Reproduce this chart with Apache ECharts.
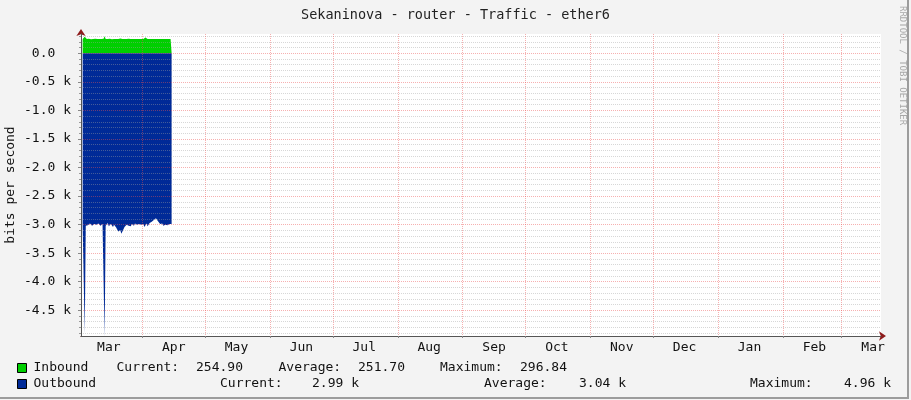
<!DOCTYPE html>
<html>
<head>
<meta charset="utf-8">
<script src="https://cdn.jsdelivr.net/npm/echarts@6/dist/echarts.min.js"></script>
<style>
html,body{margin:0;padding:0;background:#F3F3F3;}
#c{width:911px;height:400px;}
</style>
</head>
<body>
<div id="c"></div>
<script>
// ---- data ----
const chartTitle = 'Sekaninova - router - Traffic - ether6';
const yAxisName = 'bits per second';
const watermark = 'RRDTOOL / TOBI OETIKER';
// x in days since 1 Mar (first year)
const xMinDay = 1.72;
const xMaxDay = 383.8;
const monthStartDays = [31, 61, 92, 122, 153, 184, 214, 245, 275, 306, 337, 365];
const monthLabelDays = [15, 46, 76, 107, 137, 168, 199, 229, 260, 290, 321, 352, 380];
const monthLabels = ['Mar', 'Apr', 'May', 'Jun', 'Jul', 'Aug', 'Sep', 'Oct', 'Nov', 'Dec', 'Jan', 'Feb', 'Mar'];
const yMin = -4950;
const yMax = 338;
const yMajorTicks = [-4500, -4000, -3500, -3000, -2500, -2000, -1500, -1000, -500, 0];
const yMinorTicks = [-4900, -4800, -4700, -4600, -4400, -4300, -4200, -4100, -3900, -3800, -3700, -3600,
  -3400, -3300, -3200, -3100, -2900, -2800, -2700, -2600, -2400, -2300, -2200, -2100, -1900, -1800, -1700, -1600,
  -1400, -1300, -1200, -1100, -900, -800, -700, -600, -400, -300, -200, -100, 100, 200, 300];
// samples every half day starting at day 2.5
const sampleStartDay = 2.5;
const sampleStepDay = 0.5;
const inbound = [
  250, 252, 290, 255, 251, 249, 253, 250, 248, 252,
  251, 250, 253, 249, 250, 252, 251, 248, 250, 253,
  255, 297, 252, 250, 249, 251, 253, 250, 248, 251,
  250, 252, 249, 251, 250, 253, 260, 251, 249, 250,
  252, 250, 251, 249, 253, 250, 252, 251, 249, 250,
  251, 253, 250, 249, 252, 250, 251, 250, 252, 255,
  275, 252, 250, 249, 251, 250, 252, 260, 250, 251,
  249, 250, 252, 251, 250, 253, 249, 251, 250, 252,
  251, 270, 250, 252, 251, 255
];
const outbound = [
  -3000, -2980, -4900,
  -3020, -2990, -3010, -3030, -2980, -3000, -3020, -3040, -2990, -3010, -3000, -3030, -2980, -3010, -3020, -3000, -2990,
  -3010, -4960, -3020,
  -3000, -2970, -3030, -3010, -2990, -3020, -3040, -3000, -3020, -3050, -3080,
  -3120, -3150, -3100, -3160, -3130, -3080, -3040,
  -3010, -3000, -2980, -3020, -3010, -3030, -2990, -3000, -3020, -2980, -3010, -3000, -3030, -2990, -3010,
  -3000, -3020, -2990, -3040, -3010, -2980, -3030, -3000, -2970,
  -2960, -2950, -2930, -2920, -2900, -2890, -2910, -2940, -2970, -2990,
  -3000, -2980, -3020, -3050, -3000, -2970, -3010, -3030, -2990, -3000, -2990
];
const legendRows = [
  { name: 'Inbound', color: '#00CF00', cur: '254.90', avg: '251.70', max: '296.84' },
  { name: 'Outbound', color: '#002A97', cur: '2.99 k', avg: '3.04 k', max: '4.96 k' }
];

// ---- chart ----
const FONT = '"DejaVu Sans Mono", monospace';
const FS = 13;
const toPairs = arr => arr.map((v, i) => [sampleStartDay + sampleStepDay * i, v]);
const redGrid = { color: 'rgba(235,80,80,0.45)', type: [1, 1], width: 1 };
const grayGrid = { color: 'rgba(160,160,160,0.42)', type: [1, 1], width: 1 };
const arrowColor = '#8E1B1B';

function legendText(text, x, y) {
  return { type: 'text', x: x, y: y, z: 10,
    style: { text: text, font: FS + 'px ' + FONT, fill: '#111', textVerticalAlign: 'middle' } };
}
function legendBox(color, y) {
  return { type: 'rect', shape: { x: 17.5, y: y - 4.5, width: 9, height: 9 }, z: 10,
    style: { fill: color, stroke: '#000', lineWidth: 1 } };
}

const rowY = [368, 384];
const graphics = [
  { type: 'rect', shape: { x: 907, y: 0, width: 2, height: 399 }, style: { fill: '#9C9C9C' }, z: 10 },
  { type: 'rect', shape: { x: 0, y: 397, width: 909, height: 2 }, style: { fill: '#9C9C9C' }, z: 10 },
  { type: 'text', x: 907, y: 6, rotation: -Math.PI / 2, z: 10,
    style: { text: watermark, font: '9px ' + FONT, fill: '#A8A8A8', textVerticalAlign: 'top', textAlign: 'left' } },
  legendBox(legendRows[0].color, rowY[0]),
  legendText(legendRows[0].name, 33.5, rowY[0]),
  legendText('Current:', 116.5, rowY[0]),
  legendText(legendRows[0].cur, 196, rowY[0]),
  legendText('Average:', 278.5, rowY[0]),
  legendText(legendRows[0].avg, 358, rowY[0]),
  legendText('Maximum:', 440, rowY[0]),
  legendText(legendRows[0].max, 520, rowY[0]),
  legendBox(legendRows[1].color, rowY[1]),
  legendText(legendRows[1].name, 33.5, rowY[1]),
  legendText('Current:', 220, rowY[1]),
  legendText(legendRows[1].cur, 312, rowY[1]),
  legendText('Average:', 484, rowY[1]),
  legendText(legendRows[1].avg, 579, rowY[1]),
  legendText('Maximum:', 750, rowY[1]),
  legendText(legendRows[1].max, 844, rowY[1])
];

const chart = echarts.init(document.getElementById('c'), null, { renderer: 'canvas' });
chart.setOption({
  animation: false,
  backgroundColor: '#F3F3F3',
  textStyle: { fontFamily: FONT },
  title: {
    text: chartTitle, left: 'center', top: 3,
    textStyle: { fontFamily: FONT, fontSize: 13.5, fontWeight: 'normal', color: '#222' }
  },
  grid: { left: 81, right: 30, top: 34, bottom: 64, show: true, backgroundColor: '#FFFFFF', borderWidth: 0,
    containLabel: false, outerBoundsMode: 'none' },
  xAxis: [
    {
      type: 'value', min: xMinDay, max: xMaxDay, position: 'bottom', z: 4,
      axisLine: { show: true, onZero: false, symbol: ['none', 'arrow'], symbolSize: [7, 7], symbolOffset: [0, 5],
        lineStyle: { color: arrowColor, width: 1 } },
      axisTick: { show: false }, axisLabel: { show: false }, splitLine: { show: false }
    },
    {
      type: 'value', min: xMinDay, max: xMaxDay, position: 'bottom', z: 5,
      axisLine: { show: true, onZero: false, lineStyle: { color: '#555', width: 1 } },
      axisTick: { show: true, length: 2, customValues: monthStartDays, lineStyle: { color: '#888' } },
      axisLabel: {
        show: true, customValues: monthLabelDays, margin: 5,
        fontFamily: FONT, fontSize: FS, color: '#111',
        formatter: function (v) {
          let best = 0;
          for (let i = 0; i < monthLabelDays.length; i++) {
            if (Math.abs(monthLabelDays[i] - v) < Math.abs(monthLabelDays[best] - v)) best = i;
          }
          return monthLabels[best];
        }
      },
      splitLine: { show: true, lineStyle: redGrid }
    }
  ],
  yAxis: [
    {
      type: 'value', min: yMin, max: yMax, position: 'left', z: 4,
      axisLine: { show: true, onZero: false, symbol: ['none', 'arrow'], symbolSize: [7, 7], symbolOffset: [0, 5],
        lineStyle: { color: arrowColor, width: 1 } },
      axisTick: { show: true, length: 2, customValues: yMinorTicks, lineStyle: { color: '#999' } },
      axisLabel: { show: false },
      splitLine: { show: true, lineStyle: grayGrid }
    },
    {
      type: 'value', min: yMin, max: yMax, position: 'left', z: 5,
      name: yAxisName, nameLocation: 'middle', nameGap: 64, nameRotate: 90, nameMoveOverlap: false,
      nameTextStyle: { fontFamily: FONT, fontSize: FS, color: '#111' },
      axisLine: { show: true, onZero: false, lineStyle: { color: '#555', width: 1 } },
      axisTick: { show: true, length: 3, customValues: yMajorTicks, lineStyle: { color: '#888' } },
      axisLabel: {
        show: true, customValues: yMajorTicks, margin: 10,
        fontFamily: FONT, fontSize: FS, color: '#111',
        formatter: function (v) {
          if (Math.abs(v) < 1e-9) return '0.0  ';
          return (v / 1000).toFixed(1) + ' k';
        }
      },
      splitLine: { show: true, lineStyle: redGrid }
    }
  ],
  series: [
    {
      name: 'Inbound', type: 'line', xAxisIndex: 1, yAxisIndex: 1, z: 1,
      data: toPairs(inbound), symbol: 'none', smooth: false,
      lineStyle: { width: 0 }, areaStyle: { color: legendRows[0].color, opacity: 1 }
    },
    {
      name: 'Outbound', type: 'line', xAxisIndex: 1, yAxisIndex: 1, z: 1,
      data: toPairs(outbound), symbol: 'none', smooth: false,
      lineStyle: { width: 0 }, areaStyle: { color: legendRows[1].color, opacity: 1 }
    }
  ],
  graphic: graphics
});
</script>
</body>
</html>
